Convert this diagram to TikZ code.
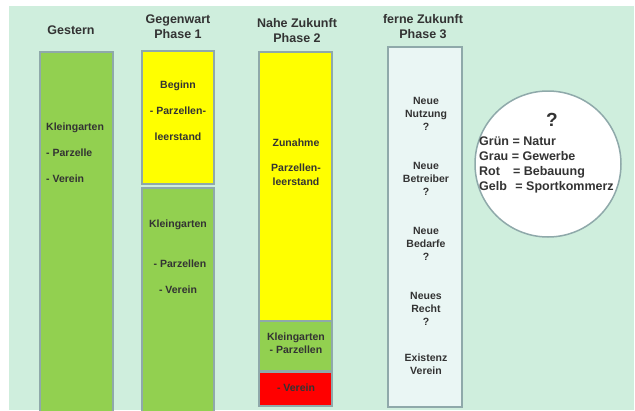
\documentclass[tikz,border=0pt]{standalone}
\usepackage{fontspec}
\setmainfont{Liberation Sans}
\definecolor{bgmint}{HTML}{CFEEDD}
\definecolor{lgreen}{HTML}{92D050}
\definecolor{lyellow}{HTML}{FFFF00}
\definecolor{lred}{HTML}{FF0000}
\definecolor{pale}{HTML}{EAF6F4}
\definecolor{rim}{HTML}{8FA9AA}
\definecolor{ink}{HTML}{333333}
\tikzset{
  col/.style={draw=rim, line width=1.5pt},
  ttl/.style={font=\bfseries\fontsize{12.5}{15}\selectfont, text=ink, align=center, inner sep=0pt},
  txt/.style={font=\bfseries\fontsize{10.5}{13}\selectfont, text=ink, align=center, inner sep=0pt},
}
\begin{document}
\begin{tikzpicture}[x=1pt,y=-1pt]
\useasboundingbox (0,0) rectangle (635,410);
\fill[white] (0,0) rectangle (635,410);
\fill[bgmint] (9,6) rectangle (634,410);
% columns
\draw[col, fill=lgreen] (40,52) rectangle (113,412);
\draw[col, fill=lyellow] (142,51) rectangle (214,184);
\draw[col, fill=lgreen] (142,188) rectangle (214,412);
\draw[col, fill=lyellow] (259,52) rectangle (332,321);
\draw[col, fill=lgreen] (259,321) rectangle (332,371);
\draw[col, fill=lred] (259,372) rectangle (332,406);
\draw[col, fill=pale] (388,47) rectangle (462,407);
\draw[col, fill=white] (548,164) circle (73);
% titles
\node[ttl] (t0) at (71,30) {Gestern};
\node[ttl] (t1) at (178,26.5) {Gegenwart\\Phase 1};
\node[ttl] (t2) at (297,30.5) {Nahe Zukunft\\Phase 2};
\node[ttl] (t3) at (423,27) {ferne Zukunft\\Phase 3};
% Gestern
\node[txt, anchor=west, align=left, font=\bfseries\fontsize{10.5}{26}\selectfont] (g0) at (46,153) {Kleingarten\\- Parzelle\\- Verein};
% Phase 1
\node[txt, font=\bfseries\fontsize{10.5}{26}\selectfont] (p1a) at (178,111) {Beginn\\- Parzellen-\\leerstand};
\node[txt] (p1b) at (178,225) {Kleingarten};
\node[txt] (p1c) at (180,264) {- Parzellen};
\node[txt] (p1d) at (178,290) {- Verein};
% Phase 2
\node[txt] (p2a) at (296,143) {Zunahme};
\node[txt, font=\bfseries\fontsize{10.5}{14}\selectfont] (p2b) at (296,175) {Parzellen-\\leerstand};
\node[txt] (p2c) at (296,343) {Kleingarten\\- Parzellen};
\node[txt] (p2d) at (296,388) {- Verein};
% Phase 3
\node[txt] (p3a) at (426,114) {Neue\\Nutzung\\?};
\node[txt] (p3b) at (426,179) {Neue\\Betreiber\\?};
\node[txt] (p3c) at (426,244) {Neue\\Bedarfe\\?};
\node[txt] (p3d) at (426,309) {Neues\\Recht\\?};
\node[txt] (p3e) at (426,364.5) {Existenz\\Verein};
% legend circle
\node[txt, font=\bfseries\fontsize{19}{20}\selectfont] (q) at (552,120) {?};
\node[txt, anchor=west, align=left, font=\bfseries\fontsize{12.5}{15}\selectfont] (leg) at (479,164.5)
  {Grün = Natur\\Grau = Gewerbe\\Rot\hspace{13pt}= Bebauung\\Gelb\hspace{5pt} = Sportkommerz};
\end{tikzpicture}
\end{document}
